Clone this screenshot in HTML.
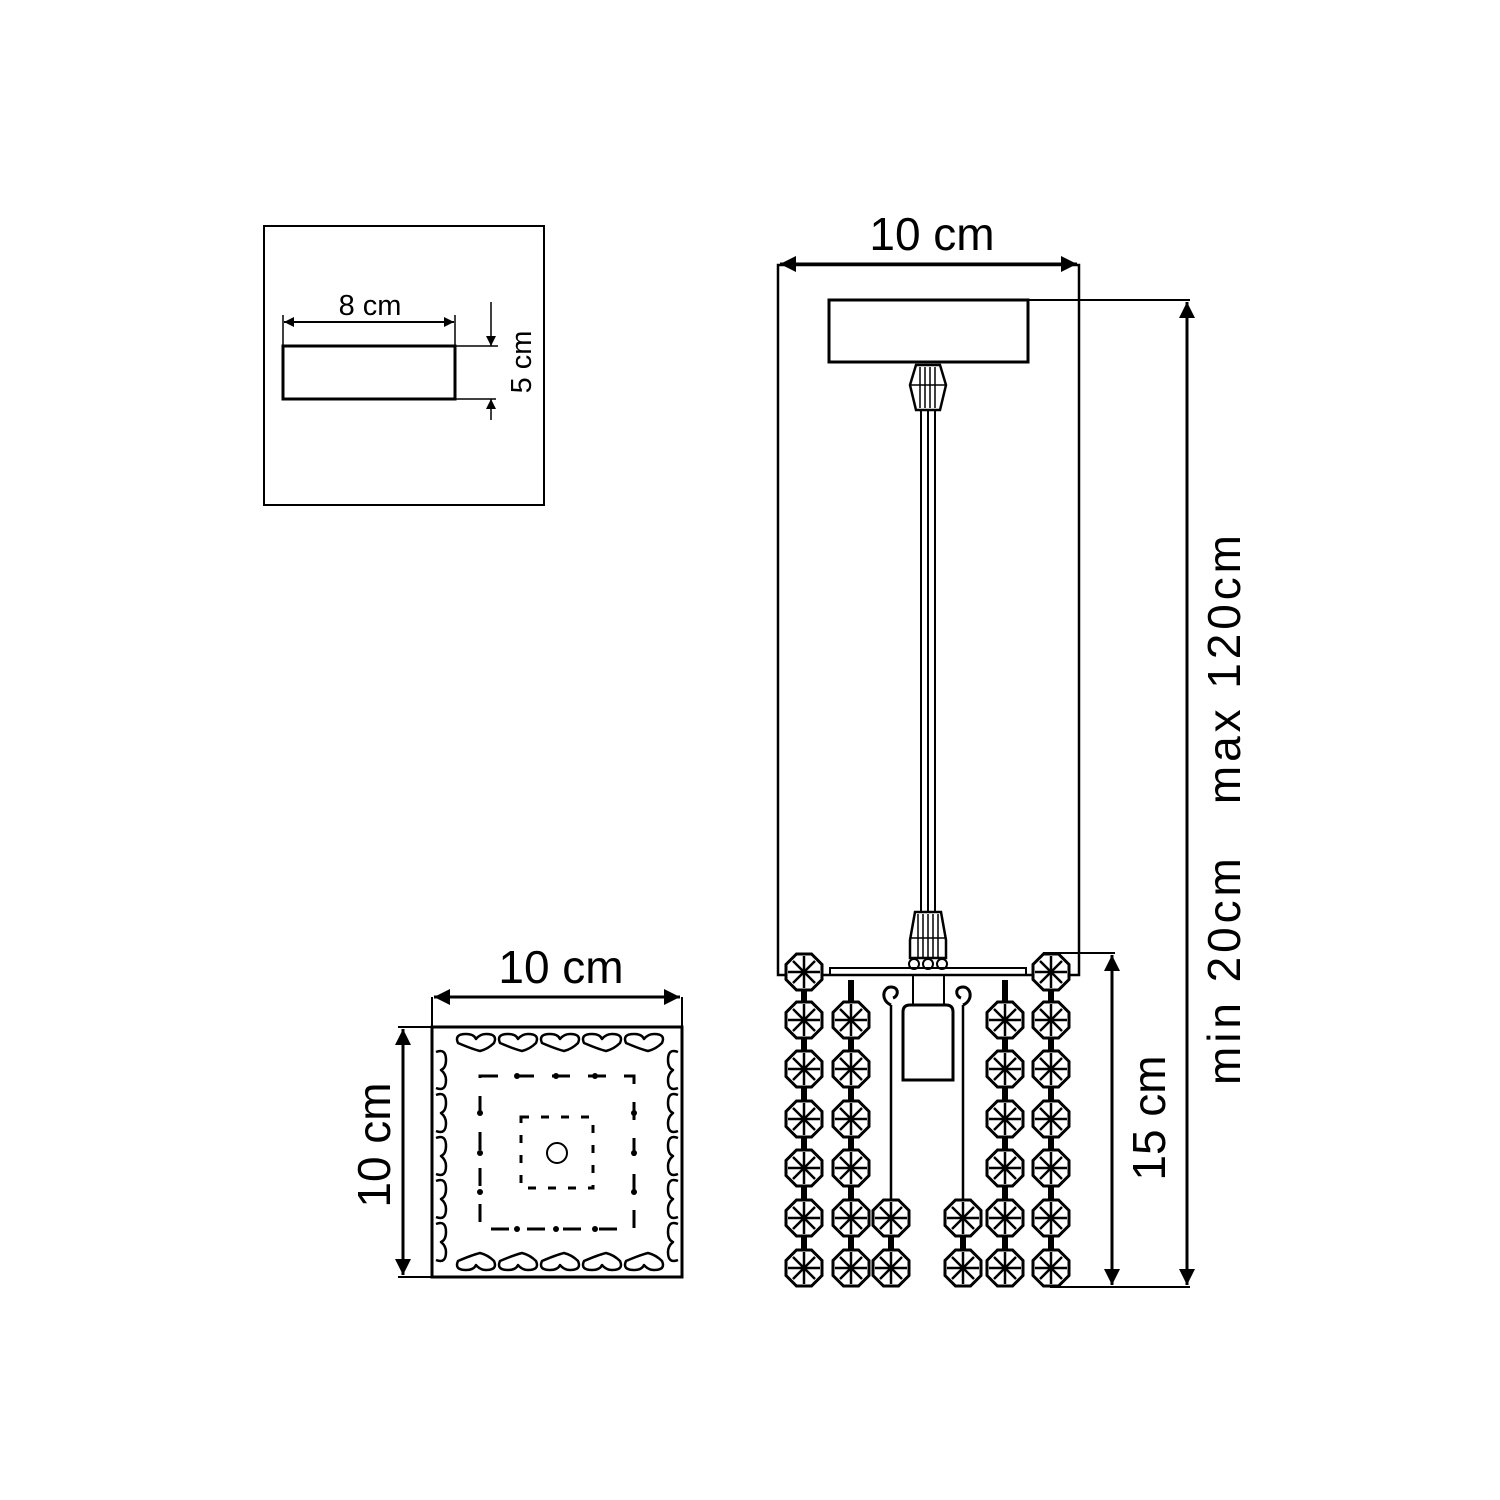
<!DOCTYPE html>
<html><head><meta charset="utf-8"><style>html,body{margin:0;padding:0;background:#fff}svg{display:block}</style></head>
<body>
<svg width="1500" height="1500" viewBox="0 0 1500 1500" xmlns="http://www.w3.org/2000/svg" font-family="Liberation Sans, Arial, sans-serif">
<defs>
<marker id="ar" viewBox="0 0 10 10" refX="10" refY="5" markerWidth="10" markerHeight="10" markerUnits="userSpaceOnUse" orient="auto-start-reverse"><path d="M0,0 L10,5 L0,10 z" fill="#000"/></marker>
<marker id="ab" viewBox="0 0 10 10" refX="10" refY="5" markerWidth="20" markerHeight="16" markerUnits="userSpaceOnUse" orient="auto-start-reverse"><path d="M0,0 L10,5 L0,10 z" fill="#000"/></marker>
<g id="cr">
<polygon points="-7.5,-18 7.5,-18 18,-7.5 18,7.5 7.5,18 -7.5,18 -18,7.5 -18,-7.5" fill="#fff" stroke="#000" stroke-width="3"/>
<g stroke="#000" stroke-width="2.5">
<line x1="-16" y1="0" x2="16" y2="0"/><line x1="0" y1="-16" x2="0" y2="16"/>
<line x1="-11" y1="-11" x2="11" y2="11"/><line x1="-11" y1="11" x2="11" y2="-11"/>
</g>
<rect x="-3" y="-3" width="6" height="6" fill="#000"/>
</g>
</defs>
<g fill="none" stroke="#000">
<rect x="264" y="226" width="280" height="279" stroke-width="2"/>
<rect x="283" y="346" width="172" height="53" stroke-width="3"/>
<line x1="283" y1="315" x2="283" y2="346" stroke-width="1.5"/>
<line x1="455" y1="315" x2="455" y2="346" stroke-width="1.5"/>
<line x1="284" y1="322" x2="454" y2="322" stroke-width="2" marker-start="url(#ar)" marker-end="url(#ar)"/>
<line x1="455" y1="346" x2="498" y2="346" stroke-width="1.5"/>
<line x1="455" y1="399" x2="496" y2="399" stroke-width="1.5"/>
<line x1="491" y1="302" x2="491" y2="346" stroke-width="1.5" marker-end="url(#ar)"/>
<line x1="491" y1="420" x2="491" y2="399" stroke-width="1.5" marker-end="url(#ar)"/>

<rect x="778" y="265" width="301" height="710" stroke-width="2.5"/>
<line x1="780" y1="264" x2="1077" y2="264" stroke-width="3" marker-start="url(#ab)" marker-end="url(#ab)"/>
<rect x="829" y="300" width="199" height="62" stroke-width="3"/>
<line x1="1028" y1="300" x2="1190" y2="300" stroke-width="2"/>
<line x1="1187" y1="302" x2="1187" y2="1285" stroke-width="3" marker-start="url(#ab)" marker-end="url(#ab)"/>
<line x1="1050" y1="1287" x2="1190" y2="1287" stroke-width="2"/>
<line x1="1043" y1="953" x2="1115" y2="953" stroke-width="2"/>
<line x1="1112" y1="955" x2="1112" y2="1285" stroke-width="3" marker-start="url(#ab)" marker-end="url(#ab)"/>

<path d="M916,365 L940,365 L946,385 L940,410 L916,410 L910,385 Z" stroke-width="2.5"/>
<g stroke-width="1.5"><line x1="920" y1="367" x2="920" y2="408"/><line x1="925" y1="367" x2="925" y2="408"/><line x1="930" y1="367" x2="930" y2="408"/><line x1="935" y1="367" x2="935" y2="408"/><line x1="911" y1="385" x2="945" y2="385"/></g>
<line x1="921" y1="410" x2="921" y2="912" stroke-width="2"/>
<line x1="928" y1="410" x2="928" y2="912" stroke-width="2"/>
<line x1="935" y1="410" x2="935" y2="912" stroke-width="2"/>
<path d="M915,912 L941,912 L946,940 L946,958 L910,958 L910,940 Z" stroke-width="2.5"/>
<g stroke-width="1.5"><line x1="918" y1="914" x2="918" y2="957"/><line x1="923" y1="914" x2="923" y2="957"/><line x1="928" y1="914" x2="928" y2="957"/><line x1="933" y1="914" x2="933" y2="957"/><line x1="938" y1="914" x2="938" y2="957"/><line x1="910" y1="938" x2="946" y2="938"/></g>
<circle cx="914" cy="964" r="5" stroke-width="2"/><circle cx="928" cy="964" r="5" stroke-width="2"/><circle cx="942" cy="964" r="5" stroke-width="2"/>
<rect x="830" y="968" width="196" height="7" stroke-width="2"/>
<line x1="913" y1="975" x2="913" y2="1005" stroke-width="2"/>
<line x1="944" y1="975" x2="944" y2="1005" stroke-width="2"/>
<path d="M903,1080 L903,1012 Q903,1005 910,1005 L946,1005 Q953,1005 953,1012 L953,1080 Z" stroke-width="3"/>
<path d="M891,1005 C880,1000 883,987 891,987 C899,987 899,996 893,998" stroke-width="3"/>
<line x1="891" y1="1005" x2="891" y2="1205" stroke-width="2.5"/>
<path d="M963,1005 C974,1000 971,987 963,987 C955,987 955,996 961,998" stroke-width="3"/>
<line x1="963" y1="1005" x2="963" y2="1205" stroke-width="2.5"/>
<line x1="804" y1="972" x2="804" y2="1268" stroke-width="6"/>
<line x1="1051" y1="972" x2="1051" y2="1268" stroke-width="6"/>
<line x1="851" y1="980" x2="851" y2="1268" stroke-width="6"/>
<line x1="1005" y1="980" x2="1005" y2="1268" stroke-width="6"/>
<line x1="891" y1="1218" x2="891" y2="1268" stroke-width="6"/>
<line x1="963" y1="1218" x2="963" y2="1268" stroke-width="6"/>

<rect x="432" y="1027" width="250" height="250" stroke-width="3"/>
<line x1="432" y1="997" x2="432" y2="1027" stroke-width="2"/>
<line x1="682" y1="997" x2="682" y2="1027" stroke-width="2"/>
<line x1="434" y1="997" x2="680" y2="997" stroke-width="3" marker-start="url(#ab)" marker-end="url(#ab)"/>
<line x1="398" y1="1027" x2="432" y2="1027" stroke-width="2"/>
<line x1="398" y1="1277" x2="432" y2="1277" stroke-width="2"/>
<line x1="403" y1="1029" x2="403" y2="1275" stroke-width="3" marker-start="url(#ab)" marker-end="url(#ab)"/>
<g stroke-width="2.5" stroke-linejoin="round">
<path d="M458,1043 q-4,-9 8,-9 q8,0 10,5 q4,-5 10,-5 q12,0 8,9 q-6,6 -14,8 q-8,-2 -22,-8z"/>
<path d="M500,1043 q-4,-9 8,-9 q8,0 10,5 q4,-5 10,-5 q12,0 8,9 q-6,6 -14,8 q-8,-2 -22,-8z"/>
<path d="M542,1043 q-4,-9 8,-9 q8,0 10,5 q4,-5 10,-5 q12,0 8,9 q-6,6 -14,8 q-8,-2 -22,-8z"/>
<path d="M584,1043 q-4,-9 8,-9 q8,0 10,5 q4,-5 10,-5 q12,0 8,9 q-6,6 -14,8 q-8,-2 -22,-8z"/>
<path d="M626,1043 q-4,-9 8,-9 q8,0 10,5 q4,-5 10,-5 q12,0 8,9 q-6,6 -14,8 q-8,-2 -22,-8z"/>
<path d="M458,1261 q-4,9 8,9 q8,0 10,-5 q4,5 10,5 q12,0 8,-9 q-6,-6 -14,-8 q-8,2 -22,8z"/>
<path d="M500,1261 q-4,9 8,9 q8,0 10,-5 q4,5 10,5 q12,0 8,-9 q-6,-6 -14,-8 q-8,2 -22,8z"/>
<path d="M542,1261 q-4,9 8,9 q8,0 10,-5 q4,5 10,5 q12,0 8,-9 q-6,-6 -14,-8 q-8,2 -22,8z"/>
<path d="M584,1261 q-4,9 8,9 q8,0 10,-5 q4,5 10,5 q12,0 8,-9 q-6,-6 -14,-8 q-8,2 -22,8z"/>
<path d="M626,1261 q-4,9 8,9 q8,0 10,-5 q4,5 10,5 q12,0 8,-9 q-6,-6 -14,-8 q-8,2 -22,8z"/>
<path d="M436,1052 q10,-4 10,8 q0,8 -5,10 q5,4 5,10 q0,12 -10,8"/>
<path d="M436,1095 q10,-4 10,8 q0,8 -5,10 q5,4 5,10 q0,12 -10,8"/>
<path d="M436,1138 q10,-4 10,8 q0,8 -5,10 q5,4 5,10 q0,12 -10,8"/>
<path d="M436,1181 q10,-4 10,8 q0,8 -5,10 q5,4 5,10 q0,12 -10,8"/>
<path d="M436,1224 q10,-4 10,8 q0,8 -5,10 q5,4 5,10 q0,12 -10,8"/>
<path d="M678,1052 q-10,-4 -10,8 q0,8 5,10 q-5,4 -5,10 q0,12 10,8"/>
<path d="M678,1095 q-10,-4 -10,8 q0,8 5,10 q-5,4 -5,10 q0,12 10,8"/>
<path d="M678,1138 q-10,-4 -10,8 q0,8 5,10 q-5,4 -5,10 q0,12 10,8"/>
<path d="M678,1181 q-10,-4 -10,8 q0,8 5,10 q-5,4 -5,10 q0,12 10,8"/>
<path d="M678,1224 q-10,-4 -10,8 q0,8 5,10 q-5,4 -5,10 q0,12 10,8"/>
</g>
<rect x="480" y="1076" width="154" height="153" stroke-width="3" stroke-dasharray="18,18"/>
<rect x="521" y="1117" width="72" height="71" stroke-width="3" stroke-dasharray="8,12"/>
<circle cx="557" cy="1153" r="10" stroke-width="2"/>
</g>
<g fill="#000">
<circle cx="517" cy="1076" r="3"/><circle cx="556" cy="1076" r="3"/><circle cx="595" cy="1076" r="3"/>
<circle cx="517" cy="1229" r="3"/><circle cx="556" cy="1229" r="3"/><circle cx="595" cy="1229" r="3"/>
<circle cx="480" cy="1113" r="3"/><circle cx="480" cy="1153" r="3"/><circle cx="480" cy="1192" r="3"/>
<circle cx="634" cy="1113" r="3"/><circle cx="634" cy="1153" r="3"/><circle cx="634" cy="1192" r="3"/>
</g>
<g>
<use href="#cr" x="804" y="972"/><use href="#cr" x="804" y="1020"/><use href="#cr" x="804" y="1069"/><use href="#cr" x="804" y="1119"/><use href="#cr" x="804" y="1168"/><use href="#cr" x="804" y="1218"/><use href="#cr" x="804" y="1268"/>
<use href="#cr" x="1051" y="972"/><use href="#cr" x="1051" y="1020"/><use href="#cr" x="1051" y="1069"/><use href="#cr" x="1051" y="1119"/><use href="#cr" x="1051" y="1168"/><use href="#cr" x="1051" y="1218"/><use href="#cr" x="1051" y="1268"/>
<use href="#cr" x="851" y="1020"/><use href="#cr" x="851" y="1069"/><use href="#cr" x="851" y="1119"/><use href="#cr" x="851" y="1168"/><use href="#cr" x="851" y="1218"/><use href="#cr" x="851" y="1268"/>
<use href="#cr" x="1005" y="1020"/><use href="#cr" x="1005" y="1069"/><use href="#cr" x="1005" y="1119"/><use href="#cr" x="1005" y="1168"/><use href="#cr" x="1005" y="1218"/><use href="#cr" x="1005" y="1268"/>
<use href="#cr" x="891" y="1218"/><use href="#cr" x="891" y="1268"/>
<use href="#cr" x="963" y="1218"/><use href="#cr" x="963" y="1268"/>
</g>
<g fill="#000" text-anchor="middle">
<text x="370" y="315" font-size="29">8 cm</text>
<text x="531" y="362" font-size="29" transform="rotate(-90 531 362)">5 cm</text>
<text x="932" y="250" font-size="46">10 cm</text>
<text x="561" y="983" font-size="46">10 cm</text>
<text x="390" y="1145" font-size="46" transform="rotate(-90 390 1145)">10 cm</text>
<text x="1165" y="1118" font-size="46" transform="rotate(-90 1165 1118)">15 cm</text>
<text x="1240" y="810" font-size="46" textLength="550" lengthAdjust="spacing" transform="rotate(-90 1240 810)" xml:space="preserve">min 20cm   max 120cm</text>
</g>
</svg>
</body></html>
